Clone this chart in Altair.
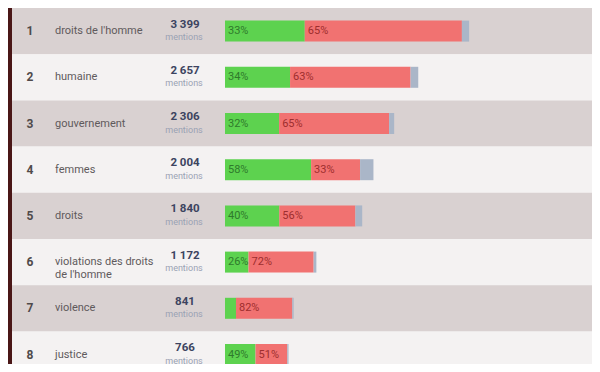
import altair as alt
import pandas as pd

# ---- data ----
ranks = [1, 2, 3, 4, 5, 6, 7, 8]
terms = ["droits de l'homme", "humaine", "gouvernement", "femmes", "droits",
         "violations des droits\nde l'homme", "violence", "justice"]
mentions = [3399, 2657, 2306, 2004, 1840, 1172, 841, 766]
positive = [33, 34, 32, 58, 40, 26, 16, 49]   # green share (%)
negative = [65, 63, 65, 33, 56, 72, 82, 51]   # red share (%)
neutral = [3, 4, 3, 9, 5, 3, 2, 2]            # grey share (%), estimated

BASE = -160  # scale origin of the bars (bars have a small minimum length)

W, H = 584, 356
ROW_H = 46.2
FONT = "Roboto"

rows = pd.DataFrame({
    "rank": ranks,
    "term": terms,
    "mentions": mentions,
    "count_label": [f"{m:,}".replace(",", " ") for m in mentions],
    "parity": ["odd" if r % 2 else "even" for r in ranks],
})

seg_records = []
lab_records = []
for r, m, p, n, u in zip(ranks, mentions, positive, negative, neutral):
    tot = p + n + u
    span = m - BASE
    b1 = BASE + span * p / tot
    b2 = BASE + span * (p + n) / tot
    seg_records += [
        {"rank": r, "seg": "pos", "start": BASE, "end": b1},
        {"rank": r, "seg": "neg", "start": b1, "end": b2},
        {"rank": r, "seg": "neu", "start": b2, "end": m},
    ]
    lab_records += [
        {"rank": r, "seg": "pos", "x": BASE, "label": f"{p}%", "share": p},
        {"rank": r, "seg": "neg", "x": b1, "label": f"{n}%", "share": n},
    ]
segs = pd.DataFrame(seg_records)
labs = pd.DataFrame(lab_records)

yscale = alt.Scale(domain=ranks, range=[0, ROW_H * len(ranks)],
                   paddingInner=0, paddingOuter=0)
xscale = alt.Scale(domain=[BASE, 3400], range=[217, 217 + 0.0686 * (3400 - BASE)])
Y = alt.Y("rank:O", scale=yscale, axis=None)

bg = alt.Chart(rows).mark_rect().encode(
    y=Y,
    x=alt.value(4), x2=alt.value(W),
    fill=alt.Fill("parity:N", scale=alt.Scale(domain=["odd", "even"],
                                              range=["#d9d1d1", "#f4f2f2"]),
                  legend=None),
)

strip = alt.Chart(rows).mark_rect(color="#4a1717").encode(
    x=alt.value(0), x2=alt.value(4), y=alt.value(0), y2=alt.value(H),
)

bars = alt.Chart(segs).mark_bar(height=21).encode(
    y=Y,
    x=alt.X("start:Q", scale=xscale, axis=None),
    x2="end:Q",
    color=alt.Color("seg:N", scale=alt.Scale(domain=["pos", "neg", "neu"],
                                             range=["#5dd24f", "#f17271", "#aab6c8"]),
                    legend=None),
)

pos_lab = alt.Chart(labs).transform_filter(
    "datum.seg == 'pos' && datum.share >= 20"
).mark_text(align="left", baseline="middle", dx=3, fontSize=11, font=FONT,
            color="#2f7a2c").encode(
    y=Y, x=alt.X("x:Q", scale=xscale, axis=None), text="label:N")

neg_lab = alt.Chart(labs).transform_filter(
    "datum.seg == 'neg'"
).mark_text(align="left", baseline="middle", dx=3, fontSize=11, font=FONT,
            color="#9e2e2e").encode(
    y=Y, x=alt.X("x:Q", scale=xscale, axis=None), text="label:N")

rank_txt = alt.Chart(rows).mark_text(
    align="center", baseline="middle", fontSize=12, fontWeight="bold",
    font=FONT, color="#4f4a4a").encode(y=Y, x=alt.value(22), text="rank:N")

term_txt = alt.Chart(rows).mark_text(
    align="left", baseline="middle", fontSize=11, font=FONT,
    color="#5f5a5c", lineBreak="\n", lineHeight=12.5).encode(
    y=Y, x=alt.value(47), text="term:N")

count_txt = alt.Chart(rows).mark_text(
    align="center", baseline="middle", dy=-6.5, fontSize=11.5,
    fontWeight="bold", font=FONT, color="#3c4460").encode(
    y=Y, x=alt.value(177), text="count_label:N")

ment_txt = alt.Chart(rows).mark_text(
    align="center", baseline="middle", dy=6, fontSize=9, font=FONT,
    color="#9aa2b4").encode(
    y=Y, x=alt.value(176), text=alt.value("mentions"))

chart = alt.layer(
    bg, strip, bars, pos_lab, neg_lab, rank_txt, term_txt, count_txt, ment_txt
).properties(
    width=W, height=H, padding=0, autosize=alt.AutoSizeParams(type="none"),
    background="#f4f2f2",
).configure_view(stroke=None)

chart.save("out.html", embed_options={"renderer": "svg", "actions": False})
